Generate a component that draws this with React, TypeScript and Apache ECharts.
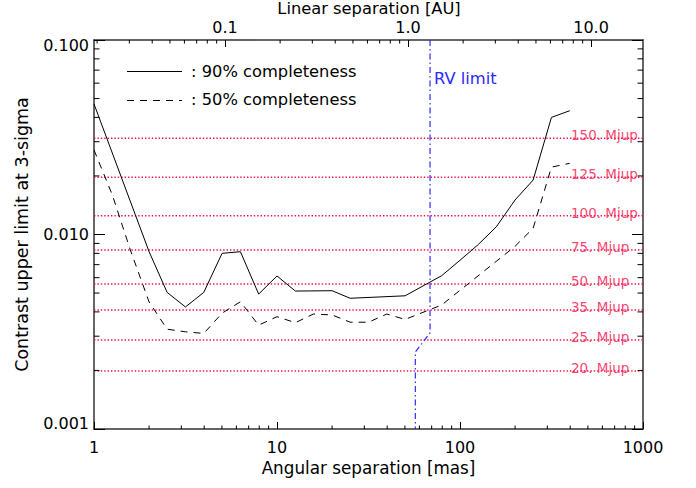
import React, { useEffect, useRef } from 'react';
import * as echarts from 'echarts';

// ---- data ----
const SEP_90 = [1, 2.0, 2.51, 3.16, 3.98, 5.01, 6.31, 7.94, 10, 12.6, 20, 25.1, 50.1, 79.4, 100, 126, 158, 200, 251, 316, 398];
const CONTRAST_90 = [0.0469, 0.00816, 0.00504, 0.00424, 0.00504, 0.0080, 0.00816, 0.00494, 0.00612, 0.00512, 0.00514, 0.0047, 0.00484, 0.00614, 0.00737, 0.00889, 0.01096, 0.01505, 0.01906, 0.0400, 0.0433];

const SEP_50 = [1, 1.26, 1.58, 2.0, 2.51, 3.16, 3.98, 5.01, 6.31, 7.94, 10, 12.6, 15.8, 20, 25.1, 31.6, 39.8, 50.1, 79.4, 200, 251, 316, 398];
const CONTRAST_50 = [0.0272, 0.01596, 0.00832, 0.0045, 0.00326, 0.00316, 0.0031, 0.00394, 0.00451, 0.00342, 0.00378, 0.00352, 0.0039, 0.00386, 0.00354, 0.00354, 0.0039, 0.00366, 0.00434, 0.0087, 0.01076, 0.0222, 0.02323];

const RV_SEP = [68.6, 68.6, 57, 57];
const RV_CONTRAST = [0.1, 0.00312, 0.00249, 0.001];

const MASS_LABELS = ['150. Mjup', '125. Mjup', '100. Mjup', '75. Mjup', '50. Mjup', '35. Mjup', '25. Mjup', '20. Mjup'];
const MASS_CONTRAST = [0.03124, 0.01968, 0.01249, 0.008324, 0.005564, 0.004091, 0.002869, 0.001987];

const SERIES_NAMES = ['90% completeness', '50% completeness'];
const TOP_TITLE = 'Linear separation [AU]';

const X_RANGE = [1, 1000];
const Y_RANGE = [0.001, 0.1];
const MAS_PER_AU = 52;
const MANTISSAS = [2, 3, 4, 5, 6, 7, 8, 9];
const MINOR_MAS = [1, 10, 100].flatMap((d) => MANTISSAS.map((m) => m * d));
const MINOR_AU = [0.01, 0.1, 1].flatMap((d) => MANTISSAS.map((m) => m * d));
const MINOR_Y = [0.001, 0.01].flatMap((d) => MANTISSAS.map((m) => m * d));

// ---- styles ----
const FONT = "'DejaVu Sans', sans-serif";
const MASS_COLOR = '#f5104c';
const RV_COLOR = '#2a2aff';
const AXIS_COLOR = '#333';
const MASS_LABEL_X = 404;

const isDecade = (v: number) => Math.abs(Math.log10(v) - Math.round(Math.log10(v))) < 1e-6;

function minorTickSeries(xAxisIndex: number, data: number[][], dx: number, dy: number) {
  return {
    type: 'custom',
    xAxisIndex,
    yAxisIndex: 0,
    silent: true,
    z: 5,
    data,
    encode: { x: 0, y: 1 },
    renderItem: (_params: any, api: any) => {
      const p = api.coord([api.value(0), api.value(1)]);
      return {
        type: 'line',
        shape: { x1: p[0], y1: p[1], x2: p[0] + dx, y2: p[1] + dy },
        style: { stroke: '#000', lineWidth: 1 },
      };
    },
  };
}

export default function App() {
  const ref = useRef<HTMLDivElement>(null);
  useEffect(() => {
    const chart = echarts.init(ref.current!, null, { renderer: 'svg' });
    const tickStyle = { lineStyle: { color: '#000', width: 1 } };
    const option: any = {
      animation: false,
      backgroundColor: '#fff',
      grid: { left: 94, right: 53, top: 40, bottom: 59, containLabel: false, outerBoundsMode: 'none' },
      xAxis: [
        {
          type: 'log',
          logBase: 10,
          min: X_RANGE[0],
          max: X_RANGE[1],
          position: 'bottom',
          name: 'Angular separation [mas]',
          nameLocation: 'middle',
          nameGap: 28,
          nameTextStyle: { fontFamily: FONT, fontSize: 16.8, color: '#000' },
          axisLine: { lineStyle: { color: AXIS_COLOR, width: 1.5 } },
          axisTick: { inside: true, length: 7, ...tickStyle },
          axisLabel: {
            margin: 10,
            fontFamily: FONT,
            fontSize: 16,
            color: '#000',
            formatter: (v: number) => (isDecade(v) ? String(Math.round(v)) : ''),
          },
          splitLine: { show: false },
        },
        {
          type: 'log',
          logBase: 10,
          min: X_RANGE[0] / MAS_PER_AU,
          max: X_RANGE[1] / MAS_PER_AU,
          position: 'top',
          axisLine: { lineStyle: { color: AXIS_COLOR, width: 1.5 } },
          axisTick: { inside: true, length: 7, ...tickStyle },
          axisLabel: {
            margin: 5,
            fontFamily: FONT,
            fontSize: 16,
            color: '#000',
            showMinLabel: false,
            showMaxLabel: false,
            formatter: (v: number) => (isDecade(v) ? v.toFixed(1) : ''),
          },
          splitLine: { show: false },
        },
      ],
      yAxis: [
        {
          type: 'log',
          logBase: 10,
          min: Y_RANGE[0],
          max: Y_RANGE[1],
          position: 'left',
          name: 'Contrast upper limit at 3-sigma',
          nameLocation: 'middle',
          nameRotate: 90,
          nameGap: 63,
          nameTextStyle: { fontFamily: FONT, fontSize: 17.5, color: '#000' },
          axisLine: { lineStyle: { color: AXIS_COLOR, width: 1.5 } },
          axisTick: { inside: true, length: 11, ...tickStyle },
          axisLabel: {
            margin: 5,
            fontFamily: FONT,
            fontSize: 16,
            color: '#000',
            formatter: (v: number) => {
              if (!isDecade(v)) return '';
              const e = Math.round(Math.log10(v));
              const s = Math.pow(10, e).toFixed(3);
              if (e === -1) return '{t|' + s + '}';
              if (e === -3) return '{b|' + s + '}';
              return s;
            },
            rich: {
              t: { fontFamily: FONT, fontSize: 16, color: '#000', padding: [10, 0, 0, 0] },
              b: { fontFamily: FONT, fontSize: 16, color: '#000', padding: [0, 0, 12, 0] },
            },
          },
          splitLine: { show: false },
        },
        {
          type: 'log',
          logBase: 10,
          min: Y_RANGE[0],
          max: Y_RANGE[1],
          position: 'right',
          axisLine: { lineStyle: { color: AXIS_COLOR, width: 1.5 } },
          axisTick: { inside: true, length: 11, ...tickStyle },
          axisLabel: { show: false },
          splitLine: { show: false },
        },
      ],
      series: [
        ...MASS_CONTRAST.map((c) => ({
          type: 'line',
          silent: true,
          symbol: 'none',
          z: 1,
          data: [
            [X_RANGE[0], c],
            [X_RANGE[1], c],
          ],
          lineStyle: { color: MASS_COLOR, width: 1.4, type: [1.4, 2] },
        })),
        {
          type: 'scatter',
          silent: true,
          symbolSize: 0.1,
          z: 2,
          data: MASS_CONTRAST.map((c, i) => ({ value: [MASS_LABEL_X, c], name: MASS_LABELS[i] })),
          label: {
            show: true,
            position: 'right',
            distance: 0,
            offset: [0, -3],
            formatter: (p: any) => p.name,
            fontFamily: FONT,
            fontSize: 13.5,
            color: MASS_COLOR,
          },
        },
        {
          name: 'RV limit',
          type: 'line',
          silent: true,
          symbol: 'none',
          z: 3,
          data: RV_SEP.map((x, i) => [x, RV_CONTRAST[i]]),
          lineStyle: { color: RV_COLOR, width: 1.2, type: [6, 3, 1.5, 3] },
        },
        {
          name: SERIES_NAMES[0],
          type: 'line',
          symbol: 'none',
          z: 4,
          data: SEP_90.map((x, i) => [x, CONTRAST_90[i]]),
          lineStyle: { color: '#000', width: 1 },
        },
        {
          name: SERIES_NAMES[1],
          type: 'line',
          symbol: 'none',
          z: 4,
          data: SEP_50.map((x, i) => [x, CONTRAST_50[i]]),
          lineStyle: { color: '#000', width: 1, type: [7, 6] },
        },
        minorTickSeries(0, MINOR_MAS.map((v) => [v, Y_RANGE[0]]), 0, -3.5),
        minorTickSeries(1, MINOR_AU.filter((v) => v > X_RANGE[0] / MAS_PER_AU && v < X_RANGE[1] / MAS_PER_AU).map((v) => [v, Y_RANGE[1]]), 0, 3.5),
        minorTickSeries(0, MINOR_Y.map((v) => [X_RANGE[0], v]), 5.5, 0),
        minorTickSeries(0, MINOR_Y.map((v) => [X_RANGE[1], v]), -5.5, 0),
      ],
      graphic: [
        { type: 'text', x: 369, y: 8, style: { text: TOP_TITLE, fontFamily: FONT, fontSize: 16.3, fill: '#000', align: 'center', verticalAlign: 'middle' } },
        { type: 'line', shape: { x1: 127, y1: 71.5, x2: 182, y2: 71.5 }, style: { stroke: '#000', lineWidth: 1 } },
        { type: 'line', shape: { x1: 127, y1: 100.5, x2: 182, y2: 100.5 }, style: { stroke: '#000', lineWidth: 1, lineDash: [7, 6] } },
        { type: 'text', x: 191, y: 71, style: { text: ': ' + SERIES_NAMES[0], fontFamily: FONT, fontSize: 16.3, fill: '#000', verticalAlign: 'middle' } },
        { type: 'text', x: 191, y: 99.5, style: { text: ': ' + SERIES_NAMES[1], fontFamily: FONT, fontSize: 16.3, fill: '#000', verticalAlign: 'middle' } },
        { type: 'text', x: 434, y: 78, style: { text: 'RV limit', fontFamily: FONT, fontSize: 16.3, fill: RV_COLOR, verticalAlign: 'middle' } },
      ],
    };
    chart.setOption(option);
    return () => chart.dispose();
  }, []);
  return <div ref={ref} style={{ position: 'fixed', left: 0, top: 0, width: 696, height: 488 }} />;
}
